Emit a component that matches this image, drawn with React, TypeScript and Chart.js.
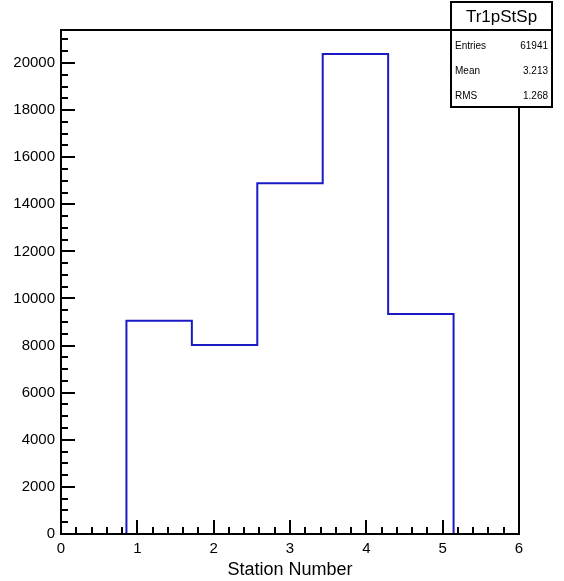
import React, { useEffect, useRef } from "react";
import { Chart, registerables } from "chart.js";

Chart.register(...registerables);

// ---- data ----
const histName = "Tr1pStSp";
const xMin = 0;
const xMax = 6;
const binCounts = [0, 9050, 8020, 14890, 20380, 9340, 0];
const xTickValues = [0, 1, 2, 3, 4, 5, 6];
const yTickValues = [0, 2000, 4000, 6000, 8000, 10000, 12000, 14000, 16000, 18000, 20000];
const yMax = 21400;
const xMinorStep = 0.2;
const yMinorStep = 500;
const statLabels = ["Entries", "Mean", "RMS"];
const statValues = ["61941", "3.213", "1.268"];
const xTitle = "Station Number";

const FONT = "'Liberation Sans', Arial, Helvetica, sans-serif";
const LINE_COLOR = "#1a1ac4";

export default function App() {
  const ref = useRef<HTMLCanvasElement | null>(null);

  useEffect(() => {
    document.body.style.margin = "0";
    const canvas = ref.current;
    if (!canvas) return;

    const nBins = binCounts.length;
    const binWidth = (xMax - xMin) / nBins;
    const points = binCounts.map((c, i) => ({ x: xMin + i * binWidth, y: c }));
    points.push({ x: xMax, y: 0 });

    const framePlugin = {
      id: "rootFrame",
      afterDatasetsDraw(chart: any) {
        const { ctx, chartArea } = chart;
        const xs = chart.scales.x;
        const ys = chart.scales.y;
        const { left, right, top, bottom } = chartArea;
        ctx.save();
        ctx.strokeStyle = "#000";
        ctx.lineWidth = 2;
        ctx.strokeRect(left, top, right - left, bottom - top);
        ctx.beginPath();
        for (let v = xMin; v <= xMax + 1e-9; v += xMinorStep) {
          const px = Math.round(xs.getPixelForValue(v));
          const major = Math.abs(v - Math.round(v)) < 1e-6;
          const len = major ? 14 : 7;
          ctx.moveTo(px, bottom);
          ctx.lineTo(px, bottom - len);
        }
        for (let v = 0; v <= yMax + 1e-9; v += yMinorStep) {
          const py = Math.round(ys.getPixelForValue(v));
          const major = v % 2000 === 0;
          const len = major ? 14 : 7;
          ctx.moveTo(left, py);
          ctx.lineTo(left + len, py);
        }
        ctx.stroke();
        ctx.restore();
      },
      afterDraw(chart: any) {
        const { ctx } = chart;
        const bx = 451, by = 2, bw = 101, bh = 105;
        ctx.save();
        ctx.fillStyle = "#fff";
        ctx.fillRect(bx, by, bw, bh);
        ctx.strokeStyle = "#000";
        ctx.lineWidth = 2;
        ctx.strokeRect(bx, by, bw, bh);
        ctx.beginPath();
        ctx.moveTo(bx, 30);
        ctx.lineTo(bx + bw, 30);
        ctx.stroke();
        ctx.fillStyle = "#000";
        ctx.textBaseline = "middle";
        ctx.textAlign = "center";
        ctx.font = `17px ${FONT}`;
        ctx.fillText(histName, bx + bw / 2, 17);
        ctx.font = `10px ${FONT}`;
        const rowsY = [46, 71, 96];
        statLabels.forEach((l, i) => {
          ctx.textAlign = "left";
          ctx.fillText(l, bx + 4, rowsY[i]);
          ctx.textAlign = "right";
          ctx.fillText(statValues[i], bx + bw - 4, rowsY[i]);
        });
        ctx.restore();
      },
    };

    const chart = new Chart(canvas, {
      type: "line",
      data: {
        datasets: [
          {
            data: points,
            stepped: "before",
            borderColor: LINE_COLOR,
            borderWidth: 2,
            pointRadius: 0,
            fill: false,
          } as any,
        ],
      },
      options: {
        responsive: false,
        animation: false,
        events: [],
        layout: { padding: { top: 30, right: 45, left: 0, bottom: 0 } },
        plugins: { legend: { display: false }, tooltip: { enabled: false } },
        scales: {
          x: {
            type: "linear",
            min: xMin,
            max: xMax,
            grid: { display: false, drawTicks: false },
            border: { display: false },
            afterBuildTicks: (s: any) => {
              s.ticks = xTickValues.map((v) => ({ value: v }));
            },
            afterFit: (s: any) => {
              s.height = 47;
            },
            ticks: {
              color: "#000",
              font: { family: FONT, size: 15 },
              padding: 6,
              maxRotation: 0,
              callback: (v: any) => String(v),
            },
            title: {
              display: true,
              text: xTitle,
              color: "#000",
              font: { family: FONT, size: 18 },
              padding: { top: 0, bottom: 0 },
            },
          },
          y: {
            type: "linear",
            min: 0,
            max: yMax,
            grid: { display: false, drawTicks: false },
            border: { display: false },
            afterBuildTicks: (s: any) => {
              s.ticks = yTickValues.map((v) => ({ value: v }));
            },
            afterFit: (s: any) => {
              s.width = 61;
            },
            ticks: {
              color: "#000",
              font: { family: FONT, size: 15 },
              padding: 6,
              callback: (v: any) => String(v),
            },
          },
        },
      } as any,
      plugins: [framePlugin],
    });

    return () => chart.destroy();
  }, []);

  return (
    <div style={{ width: 564, height: 581 }}>
      <canvas ref={ref} width={564} height={581} style={{ display: "block" }} />
    </div>
  );
}
